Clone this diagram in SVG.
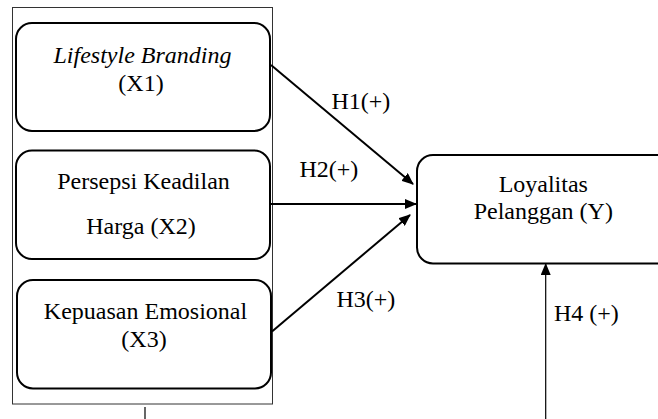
<svg xmlns="http://www.w3.org/2000/svg" width="658" height="419" viewBox="0 0 658 419">
<style>
  .box { fill: #fff; stroke: #000; stroke-width: 2; }
  .outer { fill: none; stroke: #333; stroke-width: 1; }
  .t { font-family: 'Liberation Serif', 'Times New Roman', 'DejaVu Serif', serif; font-size: 24px; fill: #000; }
  .c { text-anchor: middle; }
  .edge { stroke: #000; stroke-width: 2; fill: none; }
  .thin { stroke: #000; stroke-width: 1.2; fill: none; }
</style>
<defs>
  <marker id="ah" markerWidth="12" markerHeight="10" refX="11" refY="5" orient="auto" markerUnits="userSpaceOnUse">
    <path d="M0,0 L12,5 L0,10 Z" fill="#000"/>
  </marker>
</defs>
<rect width="658" height="419" fill="#fff"/>
<g id="frame">
  <rect class="outer" x="12.5" y="7.5" width="260" height="396.5"/>
  <line class="thin" x1="145" y1="407" x2="145" y2="419"/>
</g>
<g id="x1">
  <rect class="box" x="16" y="23" width="254" height="108" rx="16" ry="16"/>
  <text class="t c" x="142.5" y="63" font-style="italic">Lifestyle Branding</text>
  <text class="t c" x="141" y="91">(X1)</text>
</g>
<g id="x2">
  <rect class="box" x="16" y="150.5" width="254" height="108.5" rx="16" ry="16"/>
  <text class="t c" x="143.5" y="188.5">Persepsi Keadilan</text>
  <text class="t c" x="141" y="234">Harga (X2)</text>
</g>
<g id="x3">
  <rect class="box" x="17" y="280" width="254" height="108.5" rx="16" ry="16"/>
  <text class="t c" x="145.5" y="318.5">Kepuasan Emosional</text>
  <text class="t c" x="144" y="347">(X3)</text>
</g>
<g id="y">
  <rect class="box" x="417" y="155" width="258" height="108.5" rx="16" ry="16"/>
  <text class="t c" x="543.3" y="192">Loyalitas</text>
  <text class="t c" x="543.3" y="218.5">Pelanggan (Y)</text>
</g>
<g id="connectors">
  <line class="edge" x1="271" y1="65" x2="413" y2="184" marker-end="url(#ah)"/>
  <line class="edge" x1="271" y1="204" x2="416" y2="204" marker-end="url(#ah)"/>
  <line class="edge" x1="272" y1="331.5" x2="410" y2="215" marker-end="url(#ah)"/>
  <line class="thin" x1="545.7" y1="419" x2="545.7" y2="264" marker-end="url(#ah)"/>
</g>
<g id="labels">
  <text class="t" x="331.5" y="108.5">H1(+)</text>
  <text class="t" x="299.5" y="177">H2(+)</text>
  <text class="t" x="336.5" y="307">H3(+)</text>
  <text class="t" x="554" y="321">H4 (+)</text>
</g>
</svg>
